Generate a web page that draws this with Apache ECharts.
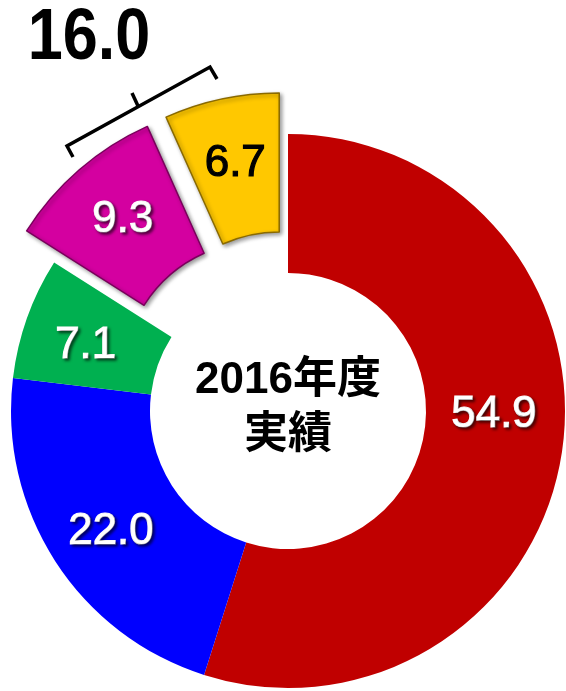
<!DOCTYPE html>
<html>
<head>
<meta charset="utf-8">
<script src="https://cdn.jsdelivr.net/npm/echarts@6/dist/echarts.min.js"></script>
<style>
html,body{margin:0;padding:0;background:#fff;}
#chart{width:566px;height:691px;}
</style>
</head>
<body>
<div id="chart"></div>
<script>
var categories = ['red', 'blue', 'green', 'magenta', 'yellow'];
var values = [54.9, 22.0, 7.1, 9.3, 6.7];
var colors = ['#C00000', '#0000FF', '#00B050', '#D400A0', '#FFC800'];
var edgeColors = ['#C00000', '#0000FF', '#00B050', '#7A005C', '#8A6A00'];
var exploded = [false, false, false, true, true];
var labelColors = ['#fff', '#fff', '#fff', '#fff', '#000'];
var centerText = '2016年度\n実績';

var cx = 288, cy = 411, rIn = 138, rOut = 277;
var labelNudge = [[-2, -28], [0, 7], [-4, 6], [0, 0], [0, 0]];

var groupSum = 0;
values.forEach(function (v, i) { if (exploded[i]) groupSum += v; });

var chart = echarts.init(document.getElementById('chart'), null, {renderer: 'canvas'});

var data = values.map(function (v, i) {
  var item = {
    name: categories[i],
    value: v,
    selected: exploded[i],
    itemStyle: {color: colors[i]},
    label: {color: labelColors[i], textBorderColor: labelColors[i]}
  };
  if (exploded[i]) {
    item.itemStyle.borderColor = edgeColors[i];
    item.itemStyle.borderWidth = 1.5;
    item.itemStyle.shadowColor = 'rgba(0,0,0,0.4)';
    item.itemStyle.shadowBlur = 4;
    item.itemStyle.shadowOffsetX = 2;
    item.itemStyle.shadowOffsetY = 2;
  }
  if (labelColors[i] === '#000') {
    item.label.textShadowColor = 'transparent';
    item.label.textShadowBlur = 0;
    item.label.textShadowOffsetX = 0;
    item.label.textShadowOffsetY = 0;
  }
  return item;
});

chart.setOption({
  animation: false,
  series: [{
    type: 'pie',
    center: [cx, cy],
    radius: [rIn, rOut],
    startAngle: 90,
    clockwise: true,
    selectedMode: 'multiple',
    selectedOffset: 42,
    avoidLabelOverlap: false,
    emphasis: {disabled: true},
    label: {
      show: true,
      position: 'inside',
      formatter: function (p) { return p.value.toFixed(1); },
      fontFamily: 'Liberation Sans, Arial, sans-serif',
      fontSize: 44,
      textBorderWidth: 1.2,
      textShadowColor: 'rgba(0,0,0,0.6)',
      textShadowBlur: 3,
      textShadowOffsetX: 2,
      textShadowOffsetY: 2
    },
    labelLine: {show: false},
    labelLayout: function (p) {
      var n = labelNudge[p.dataIndex];
      return {dx: n[0], dy: n[1]};
    },
    data: data
  }],
  graphic: [
    {
      type: 'text',
      x: cx, y: cy - 3,
      style: {
        text: centerText,
        fontFamily: 'Liberation Sans, "Noto Sans CJK JP", sans-serif',
        fontWeight: 'bold',
        fontSize: 44,
        lineHeight: 55,
        fill: '#000',
        align: 'center',
        verticalAlign: 'middle'
      }
    },
    {
      type: 'polyline',
      shape: {points: [[73, 157], [67, 146], [210, 67], [217, 79]]},
      style: {stroke: '#000', lineWidth: 3.5, fill: null}
    },
    {
      type: 'line',
      shape: {x1: 138, y1: 106, x2: 132, y2: 93},
      style: {stroke: '#000', lineWidth: 3.5}
    },
    {
      type: 'text',
      x: 89, y: 39,
      scaleY: 1.15,
      style: {
        text: groupSum.toFixed(1),
        fontFamily: 'Liberation Sans, Arial, sans-serif',
        fontWeight: 'bold',
        fontSize: 63,
        fill: '#000',
        align: 'center',
        verticalAlign: 'middle'
      }
    }
  ]
});
</script>
</body>
</html>
